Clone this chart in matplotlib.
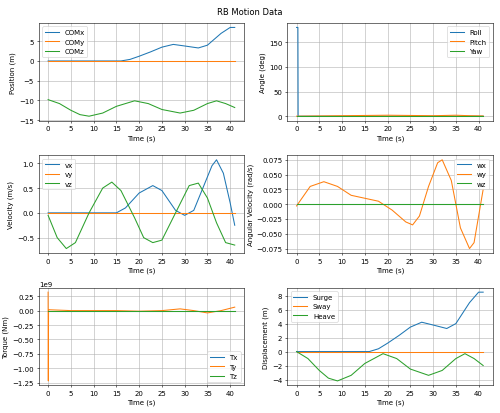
import matplotlib.pyplot as plt
import numpy as np

t_pos = [0, 5, 9, 12, 15, 16, 18, 20, 22.5, 25, 27.5, 30, 33, 35, 38, 40, 41]
com_x = [0, 0, 0, 0, 0, 0, 0.4, 1.2, 2.3, 3.5, 4.2, 3.8, 3.3, 4.0, 7.0, 8.5, 8.5]
t_z = [0, 2.5, 5, 7, 9, 12, 15, 19, 22, 25, 29, 32, 35, 37, 39, 41]
com_z = [-9.8, -10.8, -12.5, -13.6, -14.0, -13.2, -11.5, -10.1, -10.8, -12.3,
         -13.2, -12.5, -10.8, -10.1, -10.8, -11.8]

t_ang = [0, 0.3, 0.35, 5, 10, 15, 20, 25, 30, 35, 38, 41]
roll = [180, 180, 0, 0, 0, 0, 0, 0, 0, 0, 0, 0]
pitch = [0, 0, 0, 0.5, 1.0, 1.5, 2.0, 1.5, 1.0, 2.0, 1.0, 0.5]
yaw = [0] * len(t_ang)

t_vx = [0, 5, 10, 15, 17, 20, 23, 25, 28, 30, 32, 34, 36, 37, 38.5, 40, 41]
vx = [0, 0, 0, 0, 0.1, 0.4, 0.55, 0.45, 0.05, -0.05, 0.05, 0.5, 0.95, 1.07, 0.8, 0.2, -0.25]
t_vz = [0, 2, 4, 6, 9, 12, 14, 16, 19, 21, 23, 25, 28, 31, 33, 35, 37, 39, 41]
vz = [-0.05, -0.5, -0.72, -0.6, 0.0, 0.5, 0.62, 0.45, -0.1, -0.5, -0.6, -0.55,
      0.0, 0.55, 0.6, 0.3, -0.2, -0.6, -0.65]

t_w = [0, 3, 6, 9, 12, 15, 18, 21, 24, 25.5, 27, 29, 31, 32, 34, 36, 38, 39, 41]
wy = [-0.003, 0.03, 0.038, 0.03, 0.015, 0.01, 0.005, -0.01, -0.03, -0.035,
      -0.02, 0.03, 0.07, 0.075, 0.04, -0.04, -0.075, -0.065, 0.025]

t_tq = [0, 0.05, 0.1, 0.2, 5, 10, 15, 20, 25, 29, 32, 35, 38, 41]
ty = [0.32e9, -1.22e9, 0.02e9, 0.015e9, 0, 0, 0, -0.01e9, 0, 0.03e9, 0, -0.04e9, 0, 0.06e9]

heave = [z + 9.8 for z in com_z]

fig, axs = plt.subplots(3, 2, figsize=(10, 8.28), dpi=50)
fig.suptitle('RB Motion Data')

ax = axs[0, 0]
ax.plot(t_pos, com_x, label='COMx')
ax.plot([0, 41], [0, 0], label='COMy')
ax.plot(t_z, com_z, label='COMz')
ax.set_ylabel('Position (m)')
ax.legend(loc='upper left')

ax = axs[0, 1]
ax.plot(t_ang, roll, label='Roll')
ax.plot(t_ang, pitch, label='Pitch')
ax.plot(t_ang, yaw, label='Yaw')
ax.set_ylabel('Angle (deg)')
ax.legend(loc='upper right')

ax = axs[1, 0]
ax.plot(t_vx, vx, label='vx')
ax.plot([0, 41], [0, 0], label='vy')
ax.plot(t_vz, vz, label='vz')
ax.set_ylabel('Velocity (m/s)')
ax.legend(loc='upper left')

ax = axs[1, 1]
ax.plot([0, 41], [0, 0], label='wx')
ax.plot(t_w, wy, label='wy')
ax.plot([0, 41], [0, 0], label='wz')
ax.set_ylabel('Angular Velocity (rad/s)')
ax.legend(loc='upper right')

ax = axs[2, 0]
ax.plot([0, 41], [0, 0], label='Tx')
ax.plot(t_tq, ty, label='Ty')
ax.plot([0, 41], [0, 0], label='Tz')
ax.set_ylabel('Torque (Nm)')
ax.legend(loc='lower right')

ax = axs[2, 1]
ax.plot(t_pos, com_x, label='Surge')
ax.plot([0, 41], [0, 0], label='Sway')
ax.plot(t_z, heave, label='Heave')
ax.set_ylabel('Displacement (m)')
ax.legend(loc='upper left')

for ax in axs.flat:
    ax.set_xlabel('Time (s)')
    ax.grid(True)
    ax.set_xticks(np.arange(0, 45, 5))

fig.tight_layout()
fig.savefig('out.png')
